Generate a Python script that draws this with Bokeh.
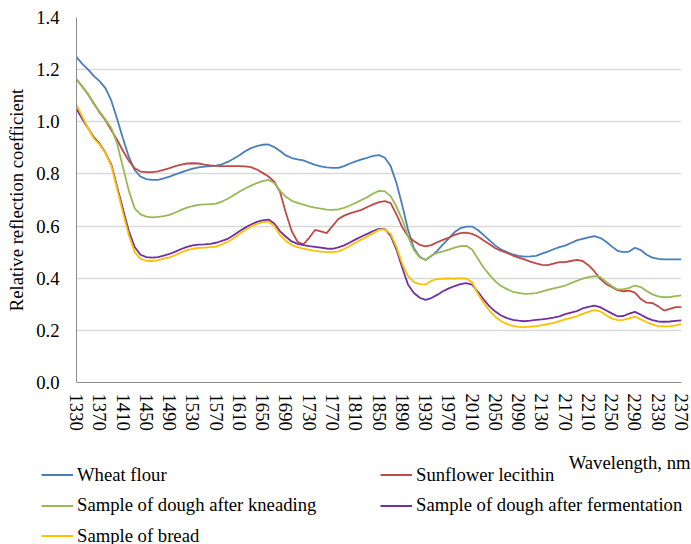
from bokeh.plotting import figure
from bokeh.models import (FixedTicker, PrintfTickFormatter, Legend, LegendItem,
                          Label, ColumnDataSource)
from bokeh.embed import file_html
from bokeh.resources import INLINE

wavelength = [
    1330, 1340, 1350, 1360, 1370, 1380, 1390, 1400, 1410, 1420,
    1430, 1440, 1450, 1460, 1470, 1480, 1490, 1500, 1510, 1520,
    1530, 1540, 1550, 1560, 1570, 1580, 1590, 1600, 1610, 1620,
    1630, 1640, 1650, 1660, 1670, 1680, 1690, 1700, 1710, 1720,
    1730, 1740, 1750, 1760, 1770, 1780, 1790, 1800, 1810, 1820,
    1830, 1840, 1850, 1860, 1870, 1880, 1890, 1900, 1910, 1920,
    1930, 1940, 1950, 1960, 1970, 1980, 1990, 2000, 2010, 2020,
    2030, 2040, 2050, 2060, 2070, 2080, 2090, 2100, 2110, 2120,
    2130, 2140, 2150, 2160, 2170, 2180, 2190, 2200, 2210, 2220,
    2230, 2240, 2250, 2260, 2270, 2280, 2290, 2300, 2310, 2320,
    2330, 2340, 2350, 2360, 2370]

wheat_flour = [
    1.248, 1.222, 1.200, 1.175, 1.155, 1.128, 1.080, 1.010, 0.935, 0.865,
    0.815, 0.790, 0.780, 0.777, 0.777, 0.783, 0.790, 0.798, 0.806, 0.814,
    0.820, 0.825, 0.828, 0.830, 0.832, 0.837, 0.846, 0.858, 0.872, 0.887,
    0.899, 0.907, 0.912, 0.913, 0.903, 0.888, 0.871, 0.861, 0.856, 0.852,
    0.843, 0.835, 0.829, 0.825, 0.823, 0.823, 0.830, 0.840, 0.848, 0.856,
    0.862, 0.869, 0.872, 0.862, 0.830, 0.765, 0.680, 0.585, 0.515, 0.482,
    0.470, 0.485, 0.505, 0.530, 0.553, 0.577, 0.592, 0.598, 0.598, 0.585,
    0.565, 0.545, 0.525, 0.510, 0.500, 0.491, 0.486, 0.483, 0.484, 0.486,
    0.494, 0.502, 0.511, 0.519, 0.525, 0.535, 0.545, 0.551, 0.557, 0.561,
    0.555, 0.541, 0.522, 0.505, 0.500, 0.502, 0.517, 0.508, 0.490, 0.479,
    0.474, 0.472, 0.472, 0.472, 0.472]

sunflower_lecithin = [
    1.163, 1.135, 1.105, 1.070, 1.035, 1.005, 0.967, 0.930, 0.888, 0.850,
    0.822, 0.809, 0.807, 0.807, 0.810, 0.816, 0.822, 0.830, 0.836, 0.840,
    0.841, 0.840, 0.836, 0.833, 0.831, 0.830, 0.830, 0.830, 0.830, 0.829,
    0.826, 0.817, 0.804, 0.790, 0.770, 0.730, 0.650, 0.580, 0.540, 0.530,
    0.555, 0.585, 0.580, 0.573, 0.600, 0.627, 0.640, 0.649, 0.655, 0.662,
    0.673, 0.683, 0.692, 0.696, 0.688, 0.645, 0.595, 0.560, 0.543, 0.528,
    0.522, 0.527, 0.538, 0.547, 0.556, 0.566, 0.573, 0.575, 0.570, 0.560,
    0.545, 0.530, 0.515, 0.505, 0.497, 0.487, 0.479, 0.472, 0.464, 0.457,
    0.451, 0.450, 0.456, 0.462, 0.462, 0.466, 0.470, 0.466, 0.450, 0.427,
    0.398, 0.378, 0.366, 0.354, 0.350, 0.352, 0.345, 0.320, 0.306, 0.305,
    0.292, 0.276, 0.282, 0.289, 0.289]

dough_kneading = [
    1.163, 1.135, 1.105, 1.067, 1.038, 1.008, 0.975, 0.915, 0.825, 0.735,
    0.668, 0.645, 0.636, 0.633, 0.635, 0.638, 0.643, 0.652, 0.662, 0.671,
    0.677, 0.681, 0.683, 0.684, 0.686, 0.694, 0.705, 0.718, 0.732, 0.744,
    0.755, 0.765, 0.772, 0.777, 0.765, 0.735, 0.712, 0.697, 0.689, 0.682,
    0.676, 0.671, 0.667, 0.663, 0.662, 0.664, 0.670, 0.679, 0.689, 0.700,
    0.711, 0.725, 0.735, 0.733, 0.715, 0.675, 0.625, 0.560, 0.508, 0.480,
    0.470, 0.487, 0.497, 0.503, 0.510, 0.517, 0.523, 0.524, 0.510, 0.475,
    0.440, 0.413, 0.388, 0.370, 0.358, 0.348, 0.344, 0.340, 0.341, 0.343,
    0.349, 0.355, 0.361, 0.366, 0.372, 0.381, 0.390, 0.398, 0.404, 0.408,
    0.405, 0.387, 0.370, 0.357, 0.357, 0.363, 0.372, 0.366, 0.351, 0.338,
    0.330, 0.327, 0.328, 0.331, 0.334]

dough_fermentation = [
    1.050, 1.010, 0.975, 0.940, 0.915, 0.880, 0.835, 0.749, 0.665, 0.580,
    0.520, 0.490, 0.481, 0.479, 0.481, 0.487, 0.493, 0.502, 0.512, 0.520,
    0.526, 0.529, 0.530, 0.532, 0.536, 0.543, 0.551, 0.565, 0.580, 0.594,
    0.606, 0.616, 0.622, 0.625, 0.610, 0.580, 0.559, 0.541, 0.532, 0.527,
    0.523, 0.520, 0.517, 0.514, 0.513, 0.518, 0.526, 0.537, 0.549, 0.560,
    0.570, 0.581, 0.589, 0.588, 0.563, 0.510, 0.440, 0.375, 0.343, 0.325,
    0.317, 0.324, 0.336, 0.350, 0.361, 0.370, 0.377, 0.381, 0.375, 0.348,
    0.318, 0.292, 0.272, 0.257, 0.247, 0.240, 0.237, 0.235, 0.237, 0.240,
    0.242, 0.245, 0.249, 0.254, 0.262, 0.268, 0.274, 0.284, 0.290, 0.295,
    0.289, 0.277, 0.265, 0.254, 0.255, 0.264, 0.271, 0.260, 0.248, 0.239,
    0.234, 0.233, 0.234, 0.236, 0.238]

bread = [
    1.065, 1.020, 0.975, 0.935, 0.912, 0.878, 0.830, 0.740, 0.650, 0.565,
    0.500, 0.474, 0.467, 0.466, 0.469, 0.475, 0.480, 0.489, 0.499, 0.508,
    0.513, 0.516, 0.517, 0.519, 0.521, 0.530, 0.540, 0.553, 0.570, 0.585,
    0.598, 0.608, 0.615, 0.617, 0.600, 0.565, 0.543, 0.527, 0.519, 0.513,
    0.509, 0.505, 0.502, 0.500, 0.500, 0.503, 0.512, 0.524, 0.537, 0.549,
    0.560, 0.573, 0.586, 0.587, 0.570, 0.520, 0.455, 0.408, 0.385, 0.377,
    0.376, 0.390, 0.397, 0.398, 0.399, 0.398, 0.400, 0.398, 0.385, 0.340,
    0.305, 0.275, 0.252, 0.235, 0.224, 0.217, 0.213, 0.212, 0.214, 0.216,
    0.220, 0.224, 0.229, 0.235, 0.242, 0.248, 0.254, 0.263, 0.271, 0.278,
    0.273, 0.259, 0.246, 0.239, 0.240, 0.246, 0.253, 0.242, 0.231, 0.222,
    0.216, 0.215, 0.215, 0.219, 0.225]

series_names = ["Wheat flour", "Sunflower lecithin", "Sample of dough after kneading",
                "Sample of dough after fermentation", "Sample of bread"]
series_values = [wheat_flour, sunflower_lecithin, dough_kneading,
                 dough_fermentation, bread]
series_colors = ["#4A7EBB", "#BE4B48", "#98B954", "#7030A0", "#FFC000"]

x_ticks = list(range(1330, 2371, 40))
y_ticks = [0.0, 0.2, 0.4, 0.6, 0.8, 1.0, 1.2, 1.4]
x_title = "Wavelength, nm"
y_title = "Relative reflection coefficient"

FONT = "Liberation Serif"
FS = "14pt"
LW = 1.8

# ---------------- main chart ----------------
p = figure(width=691, height=440, x_range=(1330, 2370), y_range=(0, 1.4),
           output_backend="svg", toolbar_location=None,
           min_border_left=76, min_border_right=10, min_border_top=17,
           min_border_bottom=58)
p.outline_line_color = None

for name, vals, col in zip(series_names, series_values, series_colors):
    src = ColumnDataSource(dict(x=wavelength, y=vals))
    p.line("x", "y", source=src, line_color=col, line_width=LW)

p.xaxis.ticker = FixedTicker(ticks=x_ticks)
p.xaxis.major_label_orientation = "vertical"
p.xaxis.major_tick_out = 0
p.xaxis.major_tick_in = 0
p.xaxis.minor_tick_out = 0
p.xaxis.minor_tick_in = 0
p.xaxis.major_label_standoff = 11
p.xaxis.axis_line_color = "#8c8c8c"
p.xaxis.major_label_text_font = FONT
p.xaxis.major_label_text_font_size = FS
p.xaxis.major_label_text_color = "black"

p.yaxis.ticker = FixedTicker(ticks=y_ticks)
p.yaxis.formatter = PrintfTickFormatter(format="%.1f")
p.yaxis.major_tick_out = 0
p.yaxis.major_tick_in = 0
p.yaxis.minor_tick_out = 0
p.yaxis.minor_tick_in = 0
p.yaxis.major_label_standoff = 17
p.yaxis.axis_line_color = "#8c8c8c"
p.yaxis.major_label_text_font = FONT
p.yaxis.major_label_text_font_size = FS
p.yaxis.major_label_text_color = "black"
p.yaxis.axis_label = y_title
p.yaxis.axis_label_text_font = FONT
p.yaxis.axis_label_text_font_size = FS
p.yaxis.axis_label_text_font_style = "normal"
p.yaxis.axis_label_text_color = "black"
p.yaxis.axis_label_standoff = 6

p.xgrid.grid_line_color = None
p.ygrid.ticker = FixedTicker(ticks=y_ticks)
p.ygrid.grid_line_color = "#d9d9d9"
p.ygrid.grid_line_width = 1.3

# ---------------- legend strip (pixel-unit frame, separate root) ----------------
q = figure(width=691, height=104, x_range=(0, 691), y_range=(0, 104),
           output_backend="svg", toolbar_location=None,
           x_axis_type=None, y_axis_type=None, min_border=0)
q.outline_line_color = None
q.grid.visible = False

leg_renderers = []
for name, vals, col in zip(series_names, series_values, series_colors):
    # same series, outside this strip's view: used only as legend swatches
    src = ColumnDataSource(dict(x=wavelength, y=vals))
    leg_renderers.append(q.line("x", "y", source=src, line_color=col, line_width=LW))

q.add_layout(Label(x=690, y=82, text=x_title, text_align="right",
                   text_baseline="middle", text_font=FONT, text_font_size=FS,
                   text_color="black"))

rows = [[0, 1], [2, 3], [4]]
row_bottoms = [58.5, 28, -2.5]
for idx, vy in zip(rows, row_bottoms):
    items = [LegendItem(label=series_names[i], renderers=[leg_renderers[i]]) for i in idx]
    leg = Legend(items=items, orientation="horizontal", location=(41, vy),
                 glyph_width=32, glyph_height=21, label_height=21,
                 label_width=293, label_standoff=4, spacing=10,
                 padding=0, margin=0, label_text_font=FONT,
                 label_text_font_size=FS, label_text_color="black",
                 border_line_color=None, background_fill_alpha=0)
    q.add_layout(leg, "center")

open("out.html", "w").write(file_html([p, q], INLINE))
